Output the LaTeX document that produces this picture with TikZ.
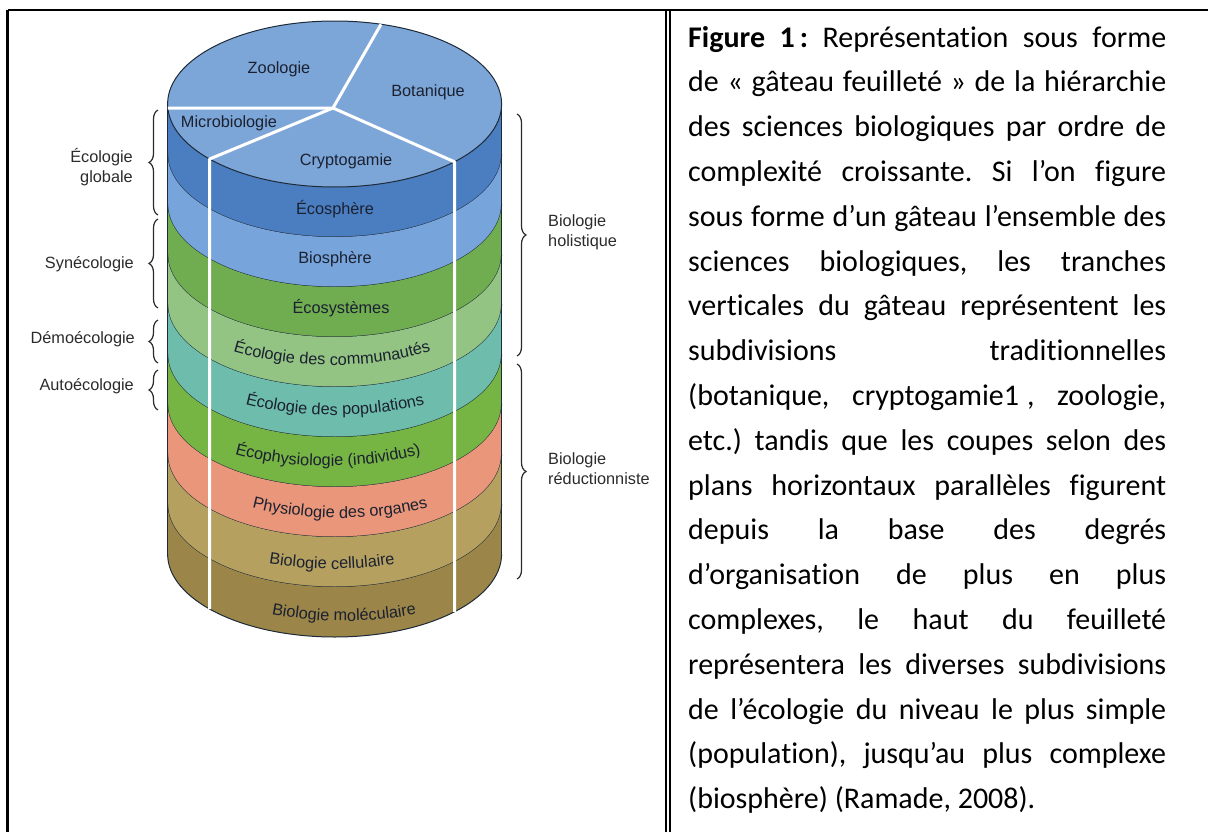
\documentclass[tikz,border=0pt]{standalone}
\usepackage{fontspec}
\usetikzlibrary{decorations.pathreplacing,decorations.text}
\newfontfamily\cakesans{Liberation Sans}
\newfontfamily\capserif[Ligatures=NoCommon]{Carlito}
\frenchspacing

\definecolor{cakeink}{HTML}{1B2130}
\definecolor{sideink}{HTML}{2B2B2B}
\definecolor{cakeline}{HTML}{1E2A38}
\definecolor{topblue}{HTML}{7DA6D8}
\definecolor{lyrEcosphere}{HTML}{4A7EC0}
\definecolor{lyrBiosphere}{HTML}{77A4DB}
\definecolor{lyrEcosystem}{HTML}{70AC50}
\definecolor{lyrCommunity}{HTML}{93C483}
\definecolor{lyrPopulation}{HTML}{6EBDAC}
\definecolor{lyrEcophys}{HTML}{76B444}
\definecolor{lyrOrgan}{HTML}{EA967A}
\definecolor{lyrCell}{HTML}{B5A060}
\definecolor{lyrMolecule}{HTML}{9B8548}

\newcommand\cakefont{\cakesans\fontsize{16.3bp}{19bp}\selectfont\color{cakeink}}

% label written along a flat elliptic arc: centre x, baseline y (downwards), text
\newcommand\arclabel[3]{%
  \path[decorate,decoration={text along path,text={|\cakefont|#3},text align=center}]
    ({#1-156.93},{-#2+46.06}) arc[start angle=200,end angle=340,x radius=167,y radius=70];}

\tikzset{
  cakelabel/.style={font=\cakefont,inner sep=0pt},
  sidelabel/.style={font=\cakesans\fontsize{16.3bp}{20bp}\selectfont,text=sideink,inner sep=0pt},
  curly/.style={decorate,decoration={brace,amplitude=9bp},line width=1.2bp,draw=sideink},
  captionline/.style={font=\capserif\fontsize{30bp}{45bp}\selectfont,anchor=base west,inner sep=0pt},
  rim/.style={draw=cakeline,line width=1bp},
  cut/.style={draw=white,line width=3bp,line join=round},
  framerule/.style={draw=black,line width=#1},
}

\begin{document}
\begin{tikzpicture}[x=1bp,y=1bp]
\useasboundingbox (0,0) rectangle (1208,-832);

% table rules
\draw[framerule=1.6bp] (7.5,-10) -- (1208,-10);
\draw[framerule=2.2bp] (7.5,-10) -- (7.5,-832);
\draw[framerule=2bp] (665.5,-10) -- (665.5,-832);
\draw[framerule=1.2bp] (670,-10) -- (670,-832);

% horizontal layers of the cake, top to bottom
\foreach \c [count=\k from 0] in {lyrEcosphere,lyrBiosphere,lyrEcosystem,lyrCommunity,lyrPopulation,lyrEcophys,lyrOrgan,lyrCell,lyrMolecule} {
  \pgfmathsetmacro\yt{-(104+50*\k)}
  \pgfmathsetmacro\yb{\yt-50}
  \fill[fill=\c] (167.6,\yt) -- (167.6,\yb)
     arc[start angle=180,end angle=360,x radius=167,y radius=83]
     -- (501.6,\yt) arc[start angle=0,end angle=-180,x radius=167,y radius=83] -- cycle;
  \draw[rim] (167.6,\yb) arc[start angle=180,end angle=360,x radius=167,y radius=83];
}
\draw[rim] (167.6,-104) -- (167.6,-554);
\draw[rim] (501.6,-104) -- (501.6,-554);

% top face
\filldraw[fill=topblue,rim] (334.6,-104) ellipse[x radius=167,y radius=83];

% vertical slices
\coordinate (hub) at (333,-108);
\coordinate (zb) at (381,-24.3);
\coordinate (mb) at (167.8,-108);
\coordinate (cl) at (209.6,-159);
\coordinate (cr) at (454.5,-161.8);
\coordinate (clb) at (209.6,-609);
\coordinate (crb) at (454.5,-611.8);
\draw[cut] (zb) -- (hub) -- (mb);
\draw[cut] (hub) -- (cl) -- (clb);
\draw[cut] (hub) -- (cr) -- (crb);

% labels of the slices and layers
\node[cakelabel] (zoo) at (279,-69) {Zoologie};
\node[cakelabel] (bota) at (428,-92) {Botanique};
\node[cakelabel] (micro) at (229,-123) {Microbiologie};
\node[cakelabel] (crypto) at (346,-161) {Cryptogamie};
\node[cakelabel] (ecosph) at (335,-209) {Écosphère};
\node[cakelabel] (biosph) at (335,-259) {Biosphère};
\node[cakelabel] (ecosys) at (341,-308) {Écosystèmes};
\arclabel{332}{365}{Écologie des communautés}
\arclabel{335}{415}{Écologie des populations}
\arclabel{328}{466}{Écophysiologie (individus)}
\arclabel{340}{518}{Physiologie des organes}
\arclabel{332}{569}{Biologie cellulaire}
\arclabel{344}{621}{Biologie moléculaire}

% braces and their labels on the left
\draw[curly] (158,-215) -- (158,-110);
\draw[curly] (158,-308) -- (158,-219);
\draw[curly] (158,-363) -- (158,-320);
\draw[curly] (158,-410) -- (158,-370);
\node[sidelabel,anchor=east,align=right] (glob) at (133,-167) {Écologie\\globale};
\node[sidelabel,anchor=east] (syn) at (134,-264) {Synécologie};
\node[sidelabel,anchor=east] (demo) at (135,-339) {Démoécologie};
\node[sidelabel,anchor=east] (auto) at (134,-386) {Autoécologie};

% braces and their labels on the right
\draw[curly] (517,-114) -- (517,-356);
\draw[curly] (517,-364) -- (517,-579);
\node[sidelabel,anchor=west,align=left] (holi) at (548,-232) {Biologie\\holistique};
\node[sidelabel,anchor=west,align=left] (reduc) at (548,-469) {Biologie\\réductionniste};

% caption
\node[captionline] (cap1) at (688,-47) {\makebox[478bp][s]{\textbf{Figure 1\,:} Représentation sous forme}};
\node[captionline] (cap2) at (688,-91.8) {\makebox[478bp][s]{de « gâteau feuilleté » de la hiérarchie}};
\node[captionline] (cap3) at (688,-136.6) {\makebox[478bp][s]{des sciences biologiques par ordre de}};
\node[captionline] (cap4) at (688,-181.4) {\makebox[478bp][s]{complexité croissante. Si l’on figure}};
\node[captionline] (cap5) at (688,-226.2) {\makebox[478bp][s]{sous forme d’un gâteau l’ensemble des}};
\node[captionline] (cap6) at (688,-271) {\makebox[478bp][s]{sciences biologiques, les tranches}};
\node[captionline] (cap7) at (688,-315.8) {\makebox[478bp][s]{verticales du gâteau représentent les}};
\node[captionline] (cap8) at (688,-360.6) {\makebox[478bp][s]{subdivisions traditionnelles}};
\node[captionline] (cap9) at (688,-405.4) {\makebox[478bp][s]{(botanique, cryptogamie1\kern8bp, zoologie,}};
\node[captionline] (cap10) at (688,-450.2) {\makebox[478bp][s]{etc.) tandis que les coupes selon des}};
\node[captionline] (cap11) at (688,-495) {\makebox[478bp][s]{plans horizontaux parallèles figurent}};
\node[captionline] (cap12) at (688,-539.8) {\makebox[478bp][s]{depuis la base des degrés}};
\node[captionline] (cap13) at (688,-584.6) {\makebox[478bp][s]{d’organisation de plus en plus}};
\node[captionline] (cap14) at (688,-629.4) {\makebox[478bp][s]{complexes, le haut du feuilleté}};
\node[captionline] (cap15) at (688,-674.2) {\makebox[478bp][s]{représentera les diverses subdivisions}};
\node[captionline] (cap16) at (688,-719) {\makebox[478bp][s]{de l’écologie du niveau le plus simple}};
\node[captionline] (cap17) at (688,-763.8) {\makebox[478bp][s]{(population), jusqu’au plus complexe}};
\node[captionline] (cap18) at (688,-808.6) {(biosphère) (Ramade, 2008).};
\end{tikzpicture}
\end{document}
